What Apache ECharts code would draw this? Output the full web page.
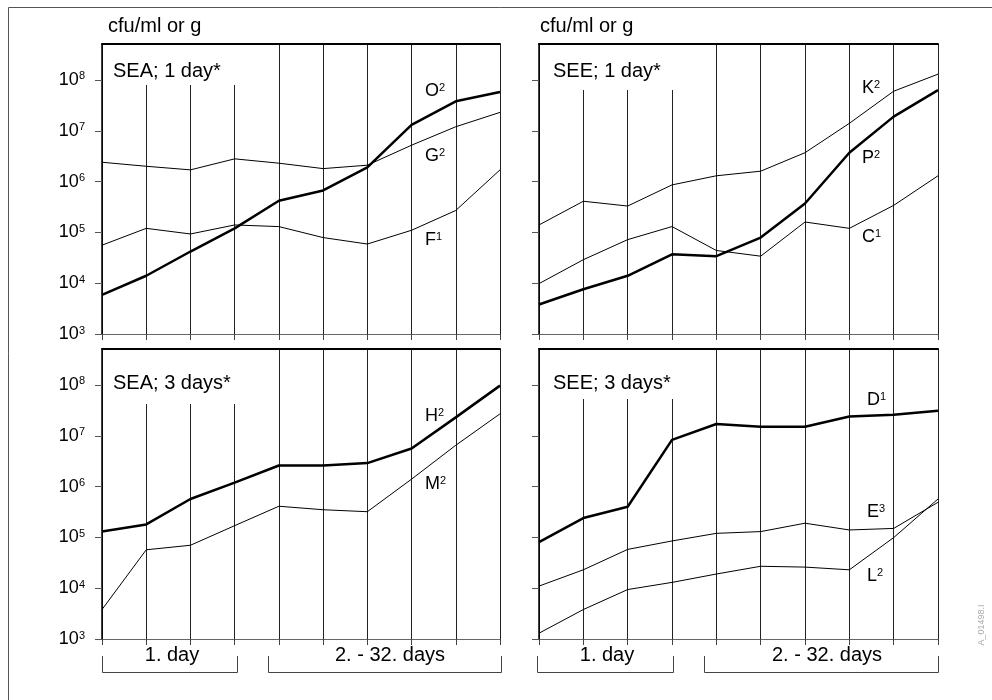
<!DOCTYPE html>
<html><head><meta charset="utf-8">
<script src="https://cdn.jsdelivr.net/npm/echarts@6/dist/echarts.min.js"></script>
<style>html,body{margin:0;padding:0;background:#fff}#c{width:992px;height:700px}</style>
</head><body><div id="c"></div>
<script>
// ---- data (cfu/ml or g) ----
const categories = ['1','2','3','4','5','6','7','8','9','10'];
const yTickExponents = [3, 4, 5, 6, 7, 8];
const yMinCfu = 1e3;
const yMaxCfu = 5.1e8;

const seaDay1_O2 = [5.9e3,1.4e4,4.2e4,1.2e5,4.2e5,6.7e5,1.9e6,1.3e7,3.8e7,5.8e7];
const seaDay1_G2 = [2.4e6,2.0e6,1.7e6,2.8e6,2.3e6,1.8e6,2.1e6,5.2e6,1.2e7,2.3e7];
const seaDay1_F1 = [5.6e4,1.2e5,9.3e4,1.4e5,1.3e5,7.9e4,5.9e4,1.1e5,2.7e5,1.7e6];

const seeDay1_K2 = [1.4e5,4.1e5,3.3e5,8.6e5,1.3e6,1.6e6,3.7e6,1.4e7,6.0e7,1.3e8];
const seeDay1_P2 = [3.8e3,7.6e3,1.4e4,3.7e4,3.4e4,7.9e4,3.7e5,3.7e6,1.9e7,6.3e7];
const seeDay1_C1 = [9.8e3,2.9e4,7.2e4,1.3e5,4.4e4,3.4e4,1.6e5,1.2e5,3.4e5,1.3e6];

const seaDay3_H2 = [1.3e5,1.8e5,5.7e5,1.2e6,2.6e6,2.6e6,2.9e6,5.6e6,2.3e7,9.7e7];
const seaDay3_M2 = [3.8e3,5.7e4,7.0e4,1.7e5,4.1e5,3.5e5,3.2e5,1.4e6,6.5e6,2.7e7];

const seeDay3_D1 = [8.1e4,2.4e5,4.0e5,8.3e6,1.7e7,1.5e7,1.5e7,2.4e7,2.6e7,3.1e7];
const seeDay3_E3 = [1.1e4,2.3e4,5.8e4,8.5e4,1.2e5,1.3e5,1.9e5,1.4e5,1.5e5,4.9e5];
const seeDay3_L2 = [1.3e3,3.8e3,9.4e3,1.3e4,1.9e4,2.7e4,2.6e4,2.3e4,9.9e4,5.7e5];

const panelTitles = ['SEA; 1 day*', 'SEE; 1 day*', 'SEA; 3 days*', 'SEE; 3 days*'];
const yAxisTitle = 'cfu/ml or g';
const periodLabels = ['1. day', '2. - 32. days'];

// ---- build chart ----
const FONT = "'Liberation Sans', Arial, Helvetica, sans-serif";
const grids = [
  {left:102, top:44, width:398, height:290},
  {left:539, top:44, width:399, height:290},
  {left:102, top:349, width:398, height:290},
  {left:539, top:349, width:399, height:290}
];
const lg = v => Math.log10(v);

const xAxes = [], yAxes = [];
grids.forEach((g, i) => {
  xAxes.push({
    type:'category', gridIndex:i, data:categories, boundaryGap:false, position:'bottom',
    axisLine:{show:true, lineStyle:{color:'#666', width:1}},
    axisTick:{show:true, interval:0, length:6, lineStyle:{color:'#444', width:1}},
    axisLabel:{show:false, interval:0},
    splitLine:{show:true, interval:0, lineStyle:{color:'#222', width:1}}
  });
  xAxes.push({
    type:'category', gridIndex:i, data:categories, boundaryGap:false, position:'top',
    axisLine:{show:true, lineStyle:{color:'#000', width:2}},
    axisTick:{show:false}, axisLabel:{show:false}, splitLine:{show:false}
  });
  const showLabels = (i % 2 === 0);
  yAxes.push({
    type:'value', gridIndex:i, min:lg(yMinCfu), max:lg(yMaxCfu),
    axisLine:{show:true, lineStyle:{color:'#000', width:1.5}},
    axisTick:{show:true, length:7, customValues:yTickExponents, lineStyle:{color:'#555', width:1}},
    axisLabel:{show:showLabels, customValues:yTickExponents, margin:17, color:'#000',
      fontSize:18, fontFamily:FONT,
      formatter: v => '10{s|' + Math.round(v) + '}',
      rich:{s:{fontSize:11, fontFamily:FONT, color:'#000', verticalAlign:'top'}}},
    splitLine:{show:false}
  });
});

const seriesDefs = [
  {g:0, d:seaDay1_O2, w:2.5}, {g:0, d:seaDay1_G2, w:1}, {g:0, d:seaDay1_F1, w:1},
  {g:1, d:seeDay1_K2, w:1}, {g:1, d:seeDay1_P2, w:2.5}, {g:1, d:seeDay1_C1, w:1},
  {g:2, d:seaDay3_H2, w:2.5}, {g:2, d:seaDay3_M2, w:1},
  {g:3, d:seeDay3_D1, w:2.5}, {g:3, d:seeDay3_E3, w:1}, {g:3, d:seeDay3_L2, w:1}
];
const series = seriesDefs.map(s => ({
  type:'line', xAxisIndex:s.g*2, yAxisIndex:s.g, data:s.d.map(lg),
  symbol:'none', silent:true, animation:false,
  lineStyle:{color:'#000', width:s.w}, z:3
}));

// panel title boxes (white background hides grid lines behind text)
const titleBoxes = [
  {left:103, top:45, padding:[16,17,4,10]},
  {left:540, top:45, padding:[16,14,9,13]},
  {left:103, top:350, padding:[23,15,11,10]},
  {left:540, top:350, padding:[23,14,6,13]}
];
const titles = panelTitles.map((t, i) => ({
  text:t, left:titleBoxes[i].left, top:titleBoxes[i].top, padding:titleBoxes[i].padding,
  backgroundColor:'#fff', z:10,
  textStyle:{fontSize:20, fontWeight:'normal', color:'#000', fontFamily:FONT, lineHeight:20}
}));

function supLabel(base, sup, x, y) {
  return {type:'text', x:x, y:y, z:20, style:{
    text:'{b|' + base + '}{s|' + sup + '}', verticalAlign:'middle', align:'left',
    rich:{b:{fontSize:18, fontFamily:FONT, fill:'#000', lineHeight:18},
          s:{fontSize:11, fontFamily:FONT, fill:'#000', verticalAlign:'top'}}}};
}
function text(t, x, y, size, align) {
  return {type:'text', x:x, y:y, z:20, style:{text:t, fontSize:size, fontFamily:FONT,
    fill:'#000', align:align || 'left', verticalAlign:'middle'}};
}
function bracket(x1, x2) {
  return {type:'polyline', z:20, shape:{points:[[x1,656],[x1,672.5],[x2,672.5],[x2,656]]},
    style:{stroke:'#444', lineWidth:1, fill:null}};
}

const graphic = [
  {type:'polyline', z:20, shape:{points:[[8.5,700],[8.5,7.5],[992,7.5]]},
    style:{stroke:'#555', lineWidth:1, fill:null}},
  text(yAxisTitle, 108, 26, 20), text(yAxisTitle, 540, 26, 20),
  supLabel('O','2',425,91), supLabel('G','2',425,156), supLabel('F','1',425,240),
  supLabel('K','2',862,88), supLabel('P','2',862,158), supLabel('C','1',862,237),
  supLabel('H','2',425,416), supLabel('M','2',425,484),
  supLabel('D','1',867,400), supLabel('E','3',867,512), supLabel('L','2',867,576),
  bracket(102.5,237.5), bracket(268.5,501.5), bracket(537.5,673.5), bracket(704.5,938.5),
  text(periodLabels[0], 172, 655, 20, 'center'), text(periodLabels[1], 390, 655, 20, 'center'),
  text(periodLabels[0], 607, 655, 20, 'center'), text(periodLabels[1], 827, 655, 20, 'center'),
  {type:'text', x:982, y:625, rotation:Math.PI/2, z:20, style:{text:'A_01498.I', fontSize:9,
    fontFamily:FONT, fill:'#aaa', align:'center', verticalAlign:'middle'}}
];

const chart = echarts.init(document.getElementById('c'), null, {renderer:'canvas'});
chart.setOption({
  animation:false,
  backgroundColor:'#fff',
  title:titles,
  grid:grids.map(g => Object.assign({show:false}, g)),
  xAxis:xAxes, yAxis:yAxes, series:series, graphic:graphic
});
</script></body></html>
